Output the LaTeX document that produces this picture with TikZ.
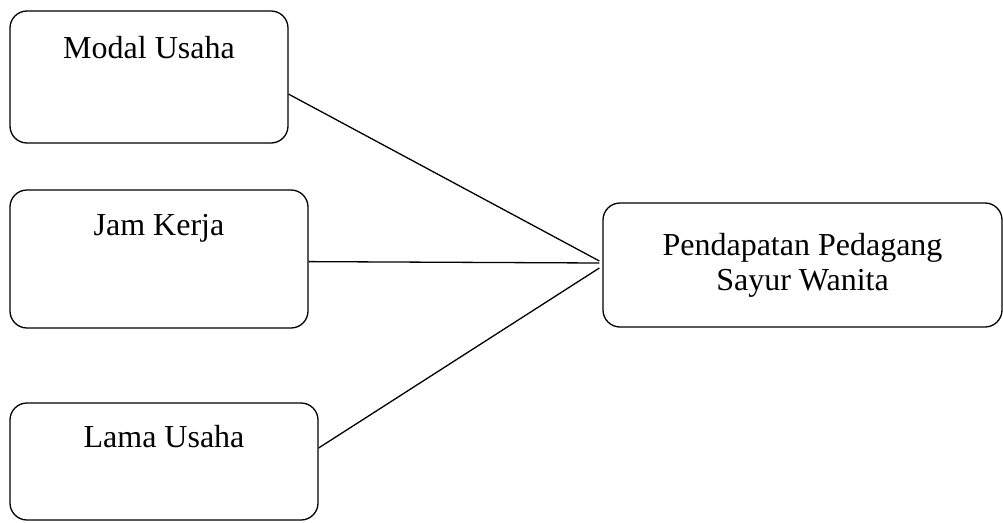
\documentclass[tikz,border=0pt]{standalone}
\usepackage{fontspec}
\setmainfont{Liberation Serif}
\begin{document}
\begin{tikzpicture}[x=1pt,y=-1pt,
  box/.style={draw=black, line width=1.3pt, rounded corners=17pt, inner sep=0pt},
  txt/.style={anchor=base, inner sep=0pt, font=\fontsize{32}{35}\selectfont, align=center},
  link/.style={draw=black, line width=1.3pt}]
\useasboundingbox (0,0) rectangle (1003,522);
\node[box, minimum width=278pt, minimum height=132pt] (m) at (149,77) {};
\node[txt] (mt) at (149,58) {Modal Usaha};
\node[box, minimum width=298pt, minimum height=138pt] (j) at (159,259) {};
\node[txt] (jt) at (159,235) {Jam Kerja};
\node[box, minimum width=308pt, minimum height=117pt] (l) at (164,461.5) {};
\node[txt] (lt) at (164,447) {Lama Usaha};
\node[box, minimum width=399pt, minimum height=124pt] (p) at (802.5,265) {};
\node[txt] (pt) at (802.5,290) {Pendapatan Pedagang\\Sayur Wanita};
\coordinate (pu) at ([xshift=-3pt,yshift=4pt]p.west);
\coordinate (pm) at ([xshift=-3pt,yshift=2pt]p.west);
\coordinate (pl) at ([xshift=-3pt,yshift=-3pt]p.west);
\draw[link] (m.-7) -- (pu);
\draw[link] (j.-1.5) -- (pm);
\draw[link] (l.5.4) -- (pl);
\end{tikzpicture}
\end{document}
